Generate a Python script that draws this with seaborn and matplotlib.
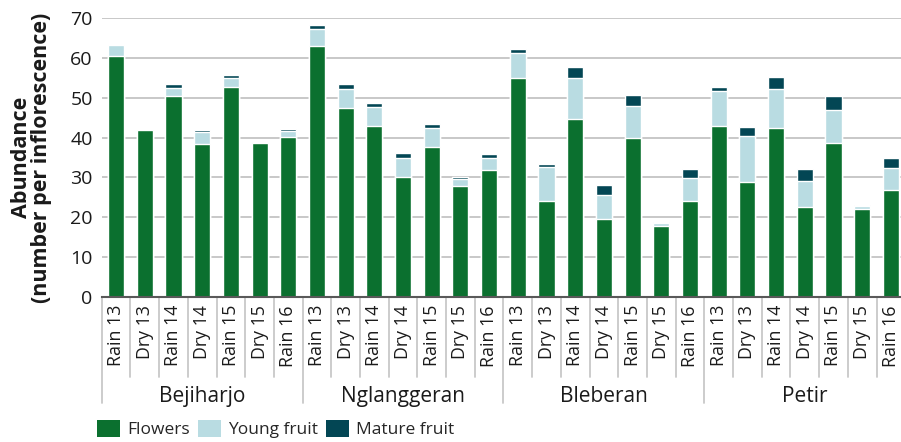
import numpy as np
import pandas as pd
import matplotlib
matplotlib.use("Agg")
import matplotlib.pyplot as plt
import matplotlib.transforms as mtransforms
from matplotlib.patches import Patch
import seaborn as sns

sites = ["Bejiharjo", "Nglanggeran", "Bleberan", "Petir"]
seasons = ["Rain 13", "Dry 13", "Rain 14", "Dry 14", "Rain 15", "Dry 15", "Rain 16"]

# Mean abundance per inflorescence, one value per site x season (in season order)
flowers = [
    60.5, 41.9, 50.5, 38.4, 52.7, 38.7, 40.2,   # Bejiharjo
    63.0, 47.4, 42.9, 30.1, 37.6, 27.8, 31.9,   # Nglanggeran
    55.0, 24.1, 44.7, 19.5, 39.9, 17.8, 24.1,   # Bleberan
    42.9, 28.8, 42.4, 22.6, 38.7, 22.1, 26.8,   # Petir
]
young_fruit = [
    2.8, 0.0, 2.0, 3.0, 2.3, 0.2, 1.5,
    4.3, 4.8, 4.8, 4.8, 4.8, 1.8, 3.0,
    6.3, 8.5, 10.3, 6.1, 8.0, 0.7, 5.7,
    8.8, 11.6, 9.8, 6.5, 8.2, 0.7, 5.6,
]
mature_fruit = [
    0.0, 0.0, 1.0, 0.5, 0.7, 0.0, 0.5,
    1.0, 1.3, 1.0, 1.2, 1.0, 0.5, 1.0,
    1.0, 0.8, 2.7, 2.5, 2.8, 0.3, 2.3,
    1.0, 2.3, 3.0, 3.0, 3.6, 0.3, 2.5,
]

series_names = ["Flowers", "Young fruit", "Mature fruit"]
colors = ["#0b702f", "#b9dce2", "#034654"]

FONT = ["Open Sans", "DejaVu Sans"]

sns.set_theme(style="white")
plt.rcParams["font.family"] = FONT

df = pd.DataFrame({
    "site": np.repeat(sites, len(seasons)),
    "season": seasons * len(sites),
    "Flowers": flowers,
    "Young fruit": young_fruit,
    "Mature fruit": mature_fruit,
})
df["key"] = df["site"] + "|" + df["season"]
df["cum1"] = df["Flowers"]
df["cum2"] = df["cum1"] + df["Young fruit"]
df["cum3"] = df["cum2"] + df["Mature fruit"]
order = list(df["key"])

fig = plt.figure(figsize=(9.01, 4.42), dpi=100)
ax = fig.add_axes([0.1129, 0.3287, 0.8918, 0.6299])

# Stacked bars: draw cumulative totals from the top layer down
for col, c in zip(["cum3", "cum2", "cum1"], colors[::-1]):
    sns.barplot(data=df, x="key", y=col, order=order, color=c,
                saturation=1, width=0.56, ax=ax, errorbar=None, zorder=3)

ax.set_ylim(0, 70)
ax.set_xlim(-0.5, len(order) - 0.5)
ax.set_yticks(range(0, 71, 10))
ax.yaxis.grid(True, color="#c4c4c4", linewidth=1.3, zorder=0)
ax.set_axisbelow(True)
for s in ["top", "right", "left"]:
    ax.spines[s].set_visible(False)
ax.spines["bottom"].set_color("#595959")
ax.spines["bottom"].set_linewidth(1.5)
ax.spines["bottom"].set_zorder(5)

ax.tick_params(axis="y", length=0, pad=6.5, labelsize=14, labelcolor="#1a1a1a")
ax.tick_params(axis="x", length=0, pad=6)
ax.set_xticks(range(len(order)))
ax.set_xticklabels(df["season"], rotation=90, fontsize=12.8, color="#1a1a1a")
ax.set_xlabel("")
ax.set_ylabel("Abundance\n(number per inflorescence)", fontsize=15.5,
              fontweight="bold", color="#1a1a1a", linespacing=0.95)
ax.yaxis.set_label_coords(-0.0618, 0.5)

# Category separators under the axis
trans = mtransforms.blended_transform_factory(ax.transData, ax.transAxes)
n_season = len(seasons)
for i in range(len(order) + 1):
    group_edge = i % n_season == 0
    y_end = -0.381 if group_edge else -0.287
    ax.plot([i - 0.5, i - 0.5], [0, y_end], transform=trans, color="#c8c8c8",
            linewidth=1.3, clip_on=False)

for g, site in enumerate(sites):
    ax.text(g * n_season + (n_season - 1) / 2, -0.359, site, transform=trans,
            ha="center", va="center", fontsize=15, color="#1a1a1a")

handles = [Patch(facecolor=c, edgecolor="none") for c in colors]
fig.legend(handles, series_names, loc="center left",
           bbox_to_anchor=(0.108, 1 - 429 / 442), ncol=3, frameon=False,
           fontsize=12.5, handlelength=1.3, handleheight=1.1,
           handletextpad=0.4, columnspacing=0.5, borderaxespad=0, borderpad=0)

fig.savefig("out.png", dpi=100)
